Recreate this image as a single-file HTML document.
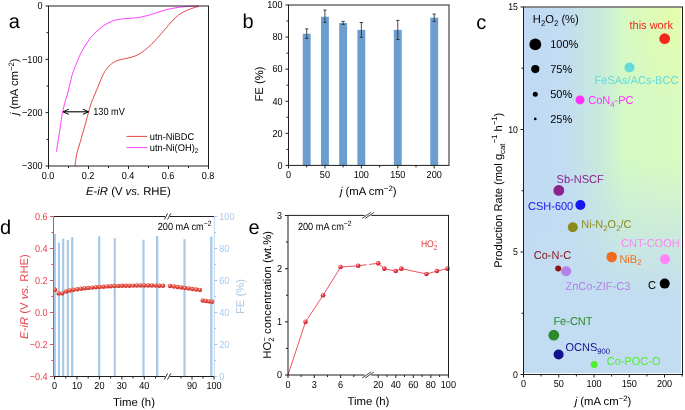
<!DOCTYPE html>
<html><head><meta charset="utf-8"><style>
html,body{margin:0;padding:0;background:#fff;width:685px;height:410px;overflow:hidden}
svg{display:block;will-change:transform}
text{font-family:"Liberation Sans", sans-serif;text-rendering:geometricPrecision}
</style></head><body>
<svg width="685" height="410" viewBox="0 0 685 410" font-family='"Liberation Sans", sans-serif'>
<rect width="685" height="410" fill="#fff"/>
<path d="M75.00,166.00 C75.25,164.18 75.68,158.92 76.50,155.10 C77.32,151.28 78.77,147.08 79.90,143.10 C81.03,139.12 82.25,134.90 83.30,131.20 C84.35,127.50 85.33,124.03 86.20,120.90 C87.07,117.77 87.70,115.25 88.50,112.40 C89.30,109.55 90.02,106.65 91.00,103.80 C91.98,100.95 93.12,98.43 94.40,95.30 C95.68,92.17 97.27,88.42 98.70,85.00 C100.13,81.58 101.70,77.43 103.00,74.80 C104.30,72.17 105.30,70.85 106.50,69.20 C107.70,67.55 108.43,66.33 110.20,64.90 C111.97,63.47 114.53,61.65 117.10,60.60 C119.67,59.55 122.75,59.30 125.60,58.60 C128.45,57.90 131.63,57.35 134.20,56.40 C136.77,55.45 138.73,54.33 141.00,52.90 C143.27,51.47 145.52,49.78 147.80,47.80 C150.08,45.82 152.42,43.42 154.70,41.00 C156.98,38.58 159.23,35.87 161.50,33.30 C163.77,30.73 166.03,28.17 168.30,25.60 C170.57,23.03 172.82,20.03 175.10,17.90 C177.38,15.77 179.43,14.30 182.00,12.80 C184.57,11.30 187.65,9.98 190.50,8.90 C193.35,7.82 197.67,6.73 199.10,6.30" fill="none" stroke="#e2413c" stroke-width="0.95" stroke-linejoin="round"/>
<path d="M56.50,151.70 C56.70,150.27 57.22,146.23 57.70,143.10 C58.18,139.97 58.83,136.60 59.40,132.90 C59.97,129.20 60.58,124.32 61.10,120.90 C61.62,117.48 61.93,115.25 62.50,112.40 C63.07,109.55 63.73,106.65 64.50,103.80 C65.27,100.95 66.23,98.43 67.10,95.30 C67.97,92.17 68.85,88.42 69.70,85.00 C70.55,81.58 71.22,78.07 72.20,74.80 C73.18,71.53 74.32,68.67 75.60,65.40 C76.88,62.13 78.33,58.47 79.90,55.20 C81.47,51.93 83.15,48.80 85.00,45.80 C86.85,42.80 89.00,39.63 91.00,37.20 C93.00,34.77 95.00,33.05 97.00,31.20 C99.00,29.35 101.00,27.55 103.00,26.10 C105.00,24.65 107.08,23.47 109.00,22.50 C110.92,21.53 112.58,20.87 114.50,20.30 C116.42,19.73 118.08,19.42 120.50,19.10 C122.92,18.78 126.15,18.65 129.00,18.40 C131.85,18.15 134.75,18.02 137.60,17.60 C140.45,17.18 143.25,16.62 146.10,15.90 C148.95,15.18 151.85,14.18 154.70,13.30 C157.55,12.42 160.37,11.40 163.20,10.60 C166.03,9.80 168.85,9.07 171.70,8.50 C174.55,7.93 177.45,7.57 180.30,7.20 C183.15,6.83 185.82,6.50 188.80,6.30 C191.78,6.10 196.63,6.05 198.20,6.00" fill="none" stroke="#ff33ff" stroke-width="0.95" stroke-linejoin="round"/>
<rect x="48.5" y="6.0" width="160.00" height="160.00" fill="none" stroke="#1e1e1e" stroke-width="1"/>
<line x1="45.50" y1="6.00" x2="48.50" y2="6.00" stroke="#1e1e1e" stroke-width="1.0" />
<text transform="translate(42.50,9.30) scale(1,1.12)" font-size="9.1" text-anchor="end" fill="#000" >0</text>
<line x1="45.50" y1="59.33" x2="48.50" y2="59.33" stroke="#1e1e1e" stroke-width="1.0" />
<text transform="translate(42.50,62.63) scale(1,1.12)" font-size="9.1" text-anchor="end" fill="#000" >&#8722;100</text>
<line x1="45.50" y1="112.67" x2="48.50" y2="112.67" stroke="#1e1e1e" stroke-width="1.0" />
<text transform="translate(42.50,115.97) scale(1,1.12)" font-size="9.1" text-anchor="end" fill="#000" >&#8722;200</text>
<line x1="45.50" y1="166.00" x2="48.50" y2="166.00" stroke="#1e1e1e" stroke-width="1.0" />
<text transform="translate(42.50,169.30) scale(1,1.12)" font-size="9.1" text-anchor="end" fill="#000" >&#8722;300</text>
<line x1="46.50" y1="32.67" x2="48.50" y2="32.67" stroke="#1e1e1e" stroke-width="1.0" />
<line x1="46.50" y1="86.00" x2="48.50" y2="86.00" stroke="#1e1e1e" stroke-width="1.0" />
<line x1="46.50" y1="139.33" x2="48.50" y2="139.33" stroke="#1e1e1e" stroke-width="1.0" />
<line x1="48.50" y1="166.00" x2="48.50" y2="169.00" stroke="#1e1e1e" stroke-width="1.0" />
<text transform="translate(48.10,178.80) scale(1,1.12)" font-size="9.1" text-anchor="middle" fill="#000" >0.0</text>
<line x1="88.50" y1="166.00" x2="88.50" y2="169.00" stroke="#1e1e1e" stroke-width="1.0" />
<text transform="translate(88.10,178.80) scale(1,1.12)" font-size="9.1" text-anchor="middle" fill="#000" >0.2</text>
<line x1="128.50" y1="166.00" x2="128.50" y2="169.00" stroke="#1e1e1e" stroke-width="1.0" />
<text transform="translate(128.10,178.80) scale(1,1.12)" font-size="9.1" text-anchor="middle" fill="#000" >0.4</text>
<line x1="168.50" y1="166.00" x2="168.50" y2="169.00" stroke="#1e1e1e" stroke-width="1.0" />
<text transform="translate(168.10,178.80) scale(1,1.12)" font-size="9.1" text-anchor="middle" fill="#000" >0.6</text>
<line x1="208.50" y1="166.00" x2="208.50" y2="169.00" stroke="#1e1e1e" stroke-width="1.0" />
<text transform="translate(208.10,178.80) scale(1,1.12)" font-size="9.1" text-anchor="middle" fill="#000" >0.8</text>
<line x1="68.50" y1="166.00" x2="68.50" y2="168.00" stroke="#1e1e1e" stroke-width="1.0" />
<line x1="108.50" y1="166.00" x2="108.50" y2="168.00" stroke="#1e1e1e" stroke-width="1.0" />
<line x1="148.50" y1="166.00" x2="148.50" y2="168.00" stroke="#1e1e1e" stroke-width="1.0" />
<line x1="188.50" y1="166.00" x2="188.50" y2="168.00" stroke="#1e1e1e" stroke-width="1.0" />
<line x1="63.40" y1="111.80" x2="88.20" y2="111.80" stroke="#000" stroke-width="1.1" />
<path d="M68.8,109.2 L63.0,111.8 L68.8,114.4" fill="none" stroke="#000" stroke-width="1.0"/>
<path d="M82.8,109.2 L88.6,111.8 L82.8,114.4" fill="none" stroke="#000" stroke-width="1.0"/>
<text transform="translate(93.20,115.20) scale(1,1.12)" font-size="9.2" text-anchor="start" fill="#000" >130 mV</text>
<line x1="126.50" y1="136.40" x2="147.20" y2="136.40" stroke="#e2413c" stroke-width="0.95" />
<line x1="126.50" y1="147.60" x2="147.20" y2="147.60" stroke="#ff33ff" stroke-width="0.95" />
<text transform="translate(149.80,139.70) scale(1,1.05)" font-size="9.3" text-anchor="start" fill="#000" >utn-NiBDC</text>
<text transform="translate(149.80,150.90) scale(1,1.05)" font-size="9.3" text-anchor="start" fill="#000" >utn-Ni(OH)<tspan font-size="6.6" dy="2.2">2</tspan></text>
<text x="128.40" y="194.80" font-size="11.3" text-anchor="middle" fill="#000" ><tspan font-style="italic">E</tspan>-<tspan font-style="italic">iR</tspan> (V <tspan font-style="italic">vs.</tspan> RHE)</text>
<text transform="translate(17.60,86.70) rotate(-90)" font-size="11.3" text-anchor="middle" fill="#000"><tspan font-style="italic">j</tspan> (mA cm<tspan font-size="7.8" dy="-4">&#8722;2</tspan><tspan dy="4">)</tspan></text>
<text x="8.70" y="28.20" font-size="20" text-anchor="start" fill="#000" >a</text>
<rect x="302.76" y="33.71" width="7.9" height="131.69" fill="#6b9ecf"/>
<rect x="320.98" y="16.71" width="7.9" height="148.69" fill="#6b9ecf"/>
<rect x="339.19" y="22.96" width="7.9" height="142.44" fill="#6b9ecf"/>
<rect x="357.40" y="29.86" width="7.9" height="135.54" fill="#6b9ecf"/>
<rect x="393.82" y="29.86" width="7.9" height="135.54" fill="#6b9ecf"/>
<rect x="430.25" y="17.67" width="7.9" height="147.73" fill="#6b9ecf"/>
<line x1="306.71" y1="28.90" x2="306.71" y2="38.40" stroke="#2a2a2a" stroke-width="0.85" />
<line x1="305.01" y1="28.90" x2="308.41" y2="28.90" stroke="#2a2a2a" stroke-width="0.85" />
<line x1="305.01" y1="38.40" x2="308.41" y2="38.40" stroke="#2a2a2a" stroke-width="0.85" />
<line x1="324.93" y1="10.10" x2="324.93" y2="22.40" stroke="#2a2a2a" stroke-width="0.85" />
<line x1="323.23" y1="10.10" x2="326.62" y2="10.10" stroke="#2a2a2a" stroke-width="0.85" />
<line x1="323.23" y1="22.40" x2="326.62" y2="22.40" stroke="#2a2a2a" stroke-width="0.85" />
<line x1="343.14" y1="21.40" x2="343.14" y2="24.40" stroke="#2a2a2a" stroke-width="0.85" />
<line x1="341.44" y1="21.40" x2="344.84" y2="21.40" stroke="#2a2a2a" stroke-width="0.85" />
<line x1="341.44" y1="24.40" x2="344.84" y2="24.40" stroke="#2a2a2a" stroke-width="0.85" />
<line x1="361.35" y1="22.50" x2="361.35" y2="37.40" stroke="#2a2a2a" stroke-width="0.85" />
<line x1="359.65" y1="22.50" x2="363.05" y2="22.50" stroke="#2a2a2a" stroke-width="0.85" />
<line x1="359.65" y1="37.40" x2="363.05" y2="37.40" stroke="#2a2a2a" stroke-width="0.85" />
<line x1="397.77" y1="20.40" x2="397.77" y2="39.50" stroke="#2a2a2a" stroke-width="0.85" />
<line x1="396.07" y1="20.40" x2="399.47" y2="20.40" stroke="#2a2a2a" stroke-width="0.85" />
<line x1="396.07" y1="39.50" x2="399.47" y2="39.50" stroke="#2a2a2a" stroke-width="0.85" />
<line x1="434.20" y1="14.10" x2="434.20" y2="21.40" stroke="#2a2a2a" stroke-width="0.85" />
<line x1="432.50" y1="14.10" x2="435.90" y2="14.10" stroke="#2a2a2a" stroke-width="0.85" />
<line x1="432.50" y1="21.40" x2="435.90" y2="21.40" stroke="#2a2a2a" stroke-width="0.85" />
<rect x="288.5" y="5.0" width="160.50" height="160.40" fill="none" stroke="#1e1e1e" stroke-width="1"/>
<line x1="285.50" y1="165.40" x2="288.50" y2="165.40" stroke="#1e1e1e" stroke-width="1.0" />
<text transform="translate(282.50,168.70) scale(1,1.12)" font-size="9.1" text-anchor="end" fill="#000" >0</text>
<line x1="285.50" y1="133.32" x2="288.50" y2="133.32" stroke="#1e1e1e" stroke-width="1.0" />
<text transform="translate(282.50,136.62) scale(1,1.12)" font-size="9.1" text-anchor="end" fill="#000" >20</text>
<line x1="285.50" y1="101.24" x2="288.50" y2="101.24" stroke="#1e1e1e" stroke-width="1.0" />
<text transform="translate(282.50,104.54) scale(1,1.12)" font-size="9.1" text-anchor="end" fill="#000" >40</text>
<line x1="285.50" y1="69.16" x2="288.50" y2="69.16" stroke="#1e1e1e" stroke-width="1.0" />
<text transform="translate(282.50,72.46) scale(1,1.12)" font-size="9.1" text-anchor="end" fill="#000" >60</text>
<line x1="285.50" y1="37.08" x2="288.50" y2="37.08" stroke="#1e1e1e" stroke-width="1.0" />
<text transform="translate(282.50,40.38) scale(1,1.12)" font-size="9.1" text-anchor="end" fill="#000" >80</text>
<line x1="285.50" y1="5.00" x2="288.50" y2="5.00" stroke="#1e1e1e" stroke-width="1.0" />
<text transform="translate(282.50,8.30) scale(1,1.12)" font-size="9.1" text-anchor="end" fill="#000" >100</text>
<line x1="286.50" y1="149.36" x2="288.50" y2="149.36" stroke="#1e1e1e" stroke-width="1.0" />
<line x1="286.50" y1="117.28" x2="288.50" y2="117.28" stroke="#1e1e1e" stroke-width="1.0" />
<line x1="286.50" y1="85.20" x2="288.50" y2="85.20" stroke="#1e1e1e" stroke-width="1.0" />
<line x1="286.50" y1="53.12" x2="288.50" y2="53.12" stroke="#1e1e1e" stroke-width="1.0" />
<line x1="286.50" y1="21.04" x2="288.50" y2="21.04" stroke="#1e1e1e" stroke-width="1.0" />
<line x1="288.50" y1="165.40" x2="288.50" y2="168.40" stroke="#1e1e1e" stroke-width="1.0" />
<text transform="translate(288.50,178.20) scale(1,1.12)" font-size="9.1" text-anchor="middle" fill="#000" >0</text>
<line x1="324.93" y1="165.40" x2="324.93" y2="168.40" stroke="#1e1e1e" stroke-width="1.0" />
<text transform="translate(324.93,178.20) scale(1,1.12)" font-size="9.1" text-anchor="middle" fill="#000" >50</text>
<line x1="361.35" y1="165.40" x2="361.35" y2="168.40" stroke="#1e1e1e" stroke-width="1.0" />
<text transform="translate(361.35,178.20) scale(1,1.12)" font-size="9.1" text-anchor="middle" fill="#000" >100</text>
<line x1="397.77" y1="165.40" x2="397.77" y2="168.40" stroke="#1e1e1e" stroke-width="1.0" />
<text transform="translate(397.77,178.20) scale(1,1.12)" font-size="9.1" text-anchor="middle" fill="#000" >150</text>
<line x1="434.20" y1="165.40" x2="434.20" y2="168.40" stroke="#1e1e1e" stroke-width="1.0" />
<text transform="translate(434.20,178.20) scale(1,1.12)" font-size="9.1" text-anchor="middle" fill="#000" >200</text>
<line x1="306.71" y1="165.40" x2="306.71" y2="167.40" stroke="#1e1e1e" stroke-width="1.0" />
<line x1="343.14" y1="165.40" x2="343.14" y2="167.40" stroke="#1e1e1e" stroke-width="1.0" />
<line x1="379.56" y1="165.40" x2="379.56" y2="167.40" stroke="#1e1e1e" stroke-width="1.0" />
<line x1="415.99" y1="165.40" x2="415.99" y2="167.40" stroke="#1e1e1e" stroke-width="1.0" />
<text x="368.20" y="195.30" font-size="11.3" text-anchor="middle" fill="#000" ><tspan font-style="italic">j</tspan> (mA cm<tspan font-size="7.8" dy="-4">&#8722;2</tspan><tspan dy="4">)</tspan></text>
<text transform="translate(263.30,84.00) rotate(-90)" font-size="11.3" text-anchor="middle" fill="#000">FE (%)</text>
<text x="242.60" y="27.70" font-size="20" text-anchor="start" fill="#000" >b</text>
<defs><linearGradient id="gch" gradientUnits="userSpaceOnUse" x1="523" y1="0" x2="682" y2="0"><stop offset="0" stop-color="#c0daf4"/><stop offset="0.27" stop-color="#c2dcf2"/><stop offset="0.48" stop-color="#c8eadc"/><stop offset="0.64" stop-color="#d4f9c6"/><stop offset="1" stop-color="#d8fbc0"/></linearGradient><radialGradient id="gcy" gradientUnits="userSpaceOnUse" cx="0" cy="0" r="1" gradientTransform="translate(682,7) scale(65,105)"><stop offset="0" stop-color="#e6fca8" stop-opacity="0.9"/><stop offset="1" stop-color="#e6fca8" stop-opacity="0"/></radialGradient><linearGradient id="gcv" gradientUnits="userSpaceOnUse" x1="0" y1="160" x2="0" y2="300"><stop offset="0" stop-color="#c2dcf2" stop-opacity="0"/><stop offset="1" stop-color="#c2dcf2" stop-opacity="1"/></linearGradient></defs>
<rect x="524" y="7.5" width="157" height="365.5" fill="url(#gch)"/>
<rect x="524" y="7.5" width="157" height="365.5" fill="url(#gcy)"/>
<rect x="524" y="7.5" width="157" height="365.5" fill="url(#gcv)"/>
<rect x="523.5" y="7.0" width="159.00" height="367.50" fill="none" stroke="#1e1e1e" stroke-width="1"/>
<line x1="520.50" y1="374.50" x2="523.50" y2="374.50" stroke="#1e1e1e" stroke-width="1.0" />
<text transform="translate(517.90,377.50) scale(1,1.12)" font-size="8.7" text-anchor="end" fill="#000" >0</text>
<line x1="520.50" y1="252.00" x2="523.50" y2="252.00" stroke="#1e1e1e" stroke-width="1.0" />
<text transform="translate(517.90,255.00) scale(1,1.12)" font-size="8.7" text-anchor="end" fill="#000" >5</text>
<line x1="520.50" y1="129.50" x2="523.50" y2="129.50" stroke="#1e1e1e" stroke-width="1.0" />
<text transform="translate(517.90,132.50) scale(1,1.12)" font-size="8.7" text-anchor="end" fill="#000" >10</text>
<line x1="520.50" y1="7.00" x2="523.50" y2="7.00" stroke="#1e1e1e" stroke-width="1.0" />
<text transform="translate(517.90,10.00) scale(1,1.12)" font-size="8.7" text-anchor="end" fill="#000" >15</text>
<line x1="521.50" y1="313.25" x2="523.50" y2="313.25" stroke="#1e1e1e" stroke-width="1.0" />
<line x1="521.50" y1="190.75" x2="523.50" y2="190.75" stroke="#1e1e1e" stroke-width="1.0" />
<line x1="521.50" y1="68.25" x2="523.50" y2="68.25" stroke="#1e1e1e" stroke-width="1.0" />
<line x1="523.50" y1="374.50" x2="523.50" y2="377.50" stroke="#1e1e1e" stroke-width="1.0" />
<text transform="translate(523.50,386.90) scale(1,1.12)" font-size="9.1" text-anchor="middle" fill="#000" >0</text>
<line x1="558.75" y1="374.50" x2="558.75" y2="377.50" stroke="#1e1e1e" stroke-width="1.0" />
<text transform="translate(558.75,386.90) scale(1,1.12)" font-size="9.1" text-anchor="middle" fill="#000" >50</text>
<line x1="594.00" y1="374.50" x2="594.00" y2="377.50" stroke="#1e1e1e" stroke-width="1.0" />
<text transform="translate(594.00,386.90) scale(1,1.12)" font-size="9.1" text-anchor="middle" fill="#000" >100</text>
<line x1="629.25" y1="374.50" x2="629.25" y2="377.50" stroke="#1e1e1e" stroke-width="1.0" />
<text transform="translate(629.25,386.90) scale(1,1.12)" font-size="9.1" text-anchor="middle" fill="#000" >150</text>
<line x1="664.50" y1="374.50" x2="664.50" y2="377.50" stroke="#1e1e1e" stroke-width="1.0" />
<text transform="translate(664.50,386.90) scale(1,1.12)" font-size="9.1" text-anchor="middle" fill="#000" >200</text>
<line x1="541.12" y1="374.50" x2="541.12" y2="376.50" stroke="#1e1e1e" stroke-width="1.0" />
<line x1="576.38" y1="374.50" x2="576.38" y2="376.50" stroke="#1e1e1e" stroke-width="1.0" />
<line x1="611.62" y1="374.50" x2="611.62" y2="376.50" stroke="#1e1e1e" stroke-width="1.0" />
<line x1="646.88" y1="374.50" x2="646.88" y2="376.50" stroke="#1e1e1e" stroke-width="1.0" />
<line x1="682.12" y1="374.50" x2="682.12" y2="376.50" stroke="#1e1e1e" stroke-width="1.0" />
<text x="603.00" y="404.60" font-size="11.3" text-anchor="middle" fill="#000" ><tspan font-style="italic">j</tspan> (mA cm<tspan font-size="7.8" dy="-4">&#8722;2</tspan><tspan dy="4">)</tspan></text>
<text transform="translate(501.50,190.30) rotate(-90)" font-size="11.15" text-anchor="middle" fill="#000">Production Rate (mol g<tspan font-size="7.8" dy="3.3">cat</tspan><tspan font-size="7.8" dy="-7.5">&#8722;1</tspan><tspan dy="4.2"> h</tspan><tspan font-size="7.8" dy="-4.2">&#8722;1</tspan><tspan dy="4.2">)</tspan></text>
<text x="476.30" y="28.50" font-size="20" text-anchor="start" fill="#000" >c</text>
<text transform="translate(532.80,23.30) scale(1,1.04)" font-size="11.2" text-anchor="start" fill="#000" >H<tspan font-size="7.8" dy="2.3">2</tspan><tspan dy="-2.3">O</tspan><tspan font-size="7.8" dy="2.3">2</tspan><tspan dy="-2.3"> (%)</tspan></text>
<circle cx="535.3" cy="44.4" r="5.9" fill="#000"/>
<text transform="translate(550.20,48.30) scale(1,1.04)" font-size="11" text-anchor="start" fill="#000" >100%</text>
<circle cx="535.3" cy="69.1" r="4.1" fill="#000"/>
<text transform="translate(550.20,73.00) scale(1,1.04)" font-size="11" text-anchor="start" fill="#000" >75%</text>
<circle cx="535.3" cy="94.2" r="2.5" fill="#000"/>
<text transform="translate(550.20,98.10) scale(1,1.04)" font-size="11" text-anchor="start" fill="#000" >50%</text>
<circle cx="535.3" cy="118.9" r="1.3" fill="#000"/>
<text transform="translate(550.20,122.80) scale(1,1.04)" font-size="11" text-anchor="start" fill="#000" >25%</text>
<circle cx="664.7" cy="38.7" r="5.4" fill="#f0281c"/>
<text transform="translate(629.50,28.70) scale(1,1.04)" font-size="11" text-anchor="start" fill="#f0281c" >this work</text>
<circle cx="629.5" cy="67.5" r="5.0" fill="#66dada"/>
<text transform="translate(594.60,84.40) scale(1,1.04)" font-size="11" text-anchor="start" fill="#66dada" >FeSAs/ACs-BCC</text>
<circle cx="580.0" cy="99.9" r="4.5" fill="#ff30ff"/>
<text transform="translate(588.30,103.90) scale(1,1.04)" font-size="11" text-anchor="start" fill="#ff30ff" >CoN<tspan font-size="7.7" dy="2.6">4</tspan><tspan dy="-2.6">-PC</tspan></text>
<circle cx="558.8" cy="190.4" r="5.4" fill="#8c228c"/>
<text transform="translate(556.60,182.60) scale(1,1.04)" font-size="11" text-anchor="start" fill="#8c228c" >Sb-NSCF</text>
<circle cx="580.4" cy="205.0" r="5.0" fill="#1616f0"/>
<text transform="translate(528.00,210.20) scale(1,1.04)" font-size="11" text-anchor="start" fill="#1616f0" >CSH-600</text>
<circle cx="572.8" cy="227.2" r="5.0" fill="#8a8a1e"/>
<text transform="translate(581.30,228.00) scale(1,1.04)" font-size="11" text-anchor="start" fill="#8a8a1e" >Ni-N<tspan font-size="7.7" dy="2.6">2</tspan><tspan dy="-2.6">O</tspan><tspan font-size="7.7" dy="2.6">2</tspan><tspan dy="-2.6">/C</tspan></text>
<circle cx="665.0" cy="259.2" r="5.0" fill="#ff84f8"/>
<text transform="translate(621.00,246.50) scale(1,1.04)" font-size="11" text-anchor="start" fill="#ff84f8" >CNT-COOH</text>
<circle cx="611.7" cy="257.0" r="5.25" fill="#f26a1e"/>
<text transform="translate(619.40,262.50) scale(1,1.04)" font-size="11" text-anchor="start" fill="#f26a1e" >NiB<tspan font-size="7.7" dy="2.6">2</tspan></text>
<circle cx="566.1" cy="271.2" r="5.0" fill="#b482e6"/>
<text transform="translate(565.50,290.10) scale(1,1.04)" font-size="11" text-anchor="start" fill="#b482e6" >ZnCo-ZIF-C3</text>
<circle cx="558.2" cy="268.4" r="3.0" fill="#8c1414"/>
<text transform="translate(533.80,258.60) scale(1,1.04)" font-size="11" text-anchor="start" fill="#8c1414" >Co-N-C</text>
<circle cx="664.7" cy="283.6" r="5.0" fill="#000"/>
<text transform="translate(647.90,288.50) scale(1,1.04)" font-size="11" text-anchor="start" fill="#000" >C</text>
<circle cx="553.8" cy="335.2" r="5.4" fill="#2c8a2c"/>
<text transform="translate(553.40,325.30) scale(1,1.04)" font-size="11" text-anchor="start" fill="#2c8a2c" >Fe-CNT</text>
<circle cx="558.6" cy="354.5" r="5.0" fill="#12128c"/>
<text transform="translate(565.50,351.30) scale(1,1.04)" font-size="11" text-anchor="start" fill="#12128c" >OCNS<tspan font-size="7.7" dy="2.6">900</tspan></text>
<circle cx="594.2" cy="364.6" r="3.5" fill="#4cf02c"/>
<text transform="translate(606.70,365.20) scale(1,1.04)" font-size="11" text-anchor="start" fill="#4cf02c" >Co-POC-O</text>
<line x1="53.50" y1="216.50" x2="53.50" y2="376.50" stroke="#e4464c" stroke-width="1.0" />
<rect x="53.30" y="233.90" width="2.60" height="142.60" fill="#5193cf" fill-opacity="0.5"/>
<rect x="57.90" y="242.60" width="2.10" height="133.90" fill="#5193cf" fill-opacity="0.5"/>
<rect x="62.10" y="238.60" width="2.20" height="137.90" fill="#5193cf" fill-opacity="0.5"/>
<rect x="66.80" y="240.00" width="2.10" height="136.50" fill="#5193cf" fill-opacity="0.5"/>
<rect x="71.10" y="237.10" width="2.30" height="139.40" fill="#5193cf" fill-opacity="0.5"/>
<rect x="98.10" y="236.30" width="2.20" height="140.20" fill="#5193cf" fill-opacity="0.5"/>
<rect x="113.70" y="238.10" width="2.10" height="138.40" fill="#5193cf" fill-opacity="0.5"/>
<rect x="142.40" y="239.70" width="2.20" height="136.80" fill="#5193cf" fill-opacity="0.5"/>
<rect x="156.00" y="236.00" width="2.30" height="140.50" fill="#5193cf" fill-opacity="0.5"/>
<rect x="183.40" y="239.20" width="2.20" height="137.30" fill="#5193cf" fill-opacity="0.5"/>
<rect x="210.20" y="236.50" width="2.30" height="140.00" fill="#5193cf" fill-opacity="0.5"/>
<defs><radialGradient id="gd" cx="0.4" cy="0.32" r="0.6"><stop offset="0" stop-color="#fff0ea"/><stop offset="0.35" stop-color="#e85a4c"/><stop offset="1" stop-color="#d2342a"/></radialGradient></defs>
<circle cx="55.00" cy="289.80" r="2.2" fill="url(#gd)"/>
<circle cx="58.60" cy="293.40" r="2.2" fill="url(#gd)"/>
<circle cx="62.20" cy="293.40" r="2.2" fill="url(#gd)"/>
<circle cx="66.10" cy="291.50" r="2.2" fill="url(#gd)"/>
<circle cx="69.80" cy="290.50" r="2.2" fill="url(#gd)"/>
<circle cx="73.50" cy="289.80" r="2.2" fill="url(#gd)"/>
<circle cx="77.30" cy="289.30" r="2.2" fill="url(#gd)"/>
<circle cx="81.10" cy="288.80" r="2.2" fill="url(#gd)"/>
<circle cx="84.80" cy="288.30" r="2.2" fill="url(#gd)"/>
<circle cx="88.50" cy="287.90" r="2.2" fill="url(#gd)"/>
<circle cx="92.30" cy="287.60" r="2.2" fill="url(#gd)"/>
<circle cx="96.00" cy="287.20" r="2.2" fill="url(#gd)"/>
<circle cx="99.70" cy="286.90" r="2.2" fill="url(#gd)"/>
<circle cx="103.50" cy="286.70" r="2.2" fill="url(#gd)"/>
<circle cx="107.20" cy="286.40" r="2.2" fill="url(#gd)"/>
<circle cx="110.80" cy="286.20" r="2.2" fill="url(#gd)"/>
<circle cx="114.60" cy="286.00" r="2.2" fill="url(#gd)"/>
<circle cx="118.30" cy="285.90" r="2.2" fill="url(#gd)"/>
<circle cx="122.03" cy="285.82" r="2.2" fill="url(#gd)"/>
<circle cx="125.76" cy="285.75" r="2.2" fill="url(#gd)"/>
<circle cx="129.49" cy="285.68" r="2.2" fill="url(#gd)"/>
<circle cx="133.22" cy="285.62" r="2.2" fill="url(#gd)"/>
<circle cx="136.95" cy="285.57" r="2.2" fill="url(#gd)"/>
<circle cx="140.68" cy="285.53" r="2.2" fill="url(#gd)"/>
<circle cx="144.41" cy="285.51" r="2.2" fill="url(#gd)"/>
<circle cx="148.14" cy="285.50" r="2.2" fill="url(#gd)"/>
<circle cx="151.87" cy="285.54" r="2.2" fill="url(#gd)"/>
<circle cx="155.60" cy="285.62" r="2.2" fill="url(#gd)"/>
<circle cx="159.33" cy="285.70" r="2.2" fill="url(#gd)"/>
<circle cx="163.06" cy="285.78" r="2.2" fill="url(#gd)"/>
<circle cx="170.10" cy="286.00" r="2.2" fill="url(#gd)"/>
<circle cx="173.83" cy="286.51" r="2.2" fill="url(#gd)"/>
<circle cx="177.56" cy="287.01" r="2.2" fill="url(#gd)"/>
<circle cx="181.29" cy="287.52" r="2.2" fill="url(#gd)"/>
<circle cx="185.02" cy="288.02" r="2.2" fill="url(#gd)"/>
<circle cx="188.75" cy="288.53" r="2.2" fill="url(#gd)"/>
<circle cx="192.48" cy="289.03" r="2.2" fill="url(#gd)"/>
<circle cx="196.21" cy="289.54" r="2.2" fill="url(#gd)"/>
<circle cx="199.94" cy="290.05" r="2.2" fill="url(#gd)"/>
<circle cx="202.70" cy="300.50" r="2.2" fill="url(#gd)"/>
<circle cx="206.00" cy="301.00" r="2.2" fill="url(#gd)"/>
<circle cx="209.20" cy="301.40" r="2.2" fill="url(#gd)"/>
<circle cx="212.30" cy="301.80" r="2.2" fill="url(#gd)"/>
<line x1="54.00" y1="216.50" x2="214.30" y2="216.50" stroke="#1e1e1e" stroke-width="1.0" />
<line x1="54.00" y1="376.50" x2="214.30" y2="376.50" stroke="#1e1e1e" stroke-width="1.0" />
<line x1="214.30" y1="216.50" x2="214.30" y2="376.50" stroke="#c0d6ee" stroke-width="1.0" />
<line x1="50.10" y1="216.50" x2="53.50" y2="216.50" stroke="#e4464c" stroke-width="1.0" />
<text transform="translate(47.60,219.80) scale(1,1.12)" font-size="9.1" text-anchor="end" fill="#e4464c" >0.6</text>
<line x1="50.10" y1="248.50" x2="53.50" y2="248.50" stroke="#e4464c" stroke-width="1.0" />
<text transform="translate(47.60,251.80) scale(1,1.12)" font-size="9.1" text-anchor="end" fill="#e4464c" >0.4</text>
<line x1="50.10" y1="280.50" x2="53.50" y2="280.50" stroke="#e4464c" stroke-width="1.0" />
<text transform="translate(47.60,283.80) scale(1,1.12)" font-size="9.1" text-anchor="end" fill="#e4464c" >0.2</text>
<line x1="50.10" y1="312.50" x2="53.50" y2="312.50" stroke="#e4464c" stroke-width="1.0" />
<text transform="translate(47.60,315.80) scale(1,1.12)" font-size="9.1" text-anchor="end" fill="#e4464c" >0.0</text>
<line x1="50.10" y1="344.50" x2="53.50" y2="344.50" stroke="#e4464c" stroke-width="1.0" />
<text transform="translate(47.60,347.80) scale(1,1.12)" font-size="9.1" text-anchor="end" fill="#e4464c" >&#8722;0.2</text>
<line x1="50.10" y1="376.50" x2="53.50" y2="376.50" stroke="#e4464c" stroke-width="1.0" />
<text transform="translate(47.60,379.80) scale(1,1.12)" font-size="9.1" text-anchor="end" fill="#e4464c" >&#8722;0.4</text>
<line x1="51.50" y1="232.50" x2="53.50" y2="232.50" stroke="#e4464c" stroke-width="1.0" />
<line x1="51.50" y1="264.50" x2="53.50" y2="264.50" stroke="#e4464c" stroke-width="1.0" />
<line x1="51.50" y1="296.50" x2="53.50" y2="296.50" stroke="#e4464c" stroke-width="1.0" />
<line x1="51.50" y1="328.50" x2="53.50" y2="328.50" stroke="#e4464c" stroke-width="1.0" />
<line x1="51.50" y1="360.50" x2="53.50" y2="360.50" stroke="#e4464c" stroke-width="1.0" />
<line x1="214.30" y1="376.50" x2="217.30" y2="376.50" stroke="#a8c8e6" stroke-width="1.0" />
<text transform="translate(219.30,379.80) scale(1,1.12)" font-size="9.1" text-anchor="start" fill="#a8c8e6" >0</text>
<line x1="214.30" y1="344.50" x2="217.30" y2="344.50" stroke="#a8c8e6" stroke-width="1.0" />
<text transform="translate(219.30,347.80) scale(1,1.12)" font-size="9.1" text-anchor="start" fill="#a8c8e6" >20</text>
<line x1="214.30" y1="312.50" x2="217.30" y2="312.50" stroke="#a8c8e6" stroke-width="1.0" />
<text transform="translate(219.30,315.80) scale(1,1.12)" font-size="9.1" text-anchor="start" fill="#a8c8e6" >40</text>
<line x1="214.30" y1="280.50" x2="217.30" y2="280.50" stroke="#a8c8e6" stroke-width="1.0" />
<text transform="translate(219.30,283.80) scale(1,1.12)" font-size="9.1" text-anchor="start" fill="#a8c8e6" >60</text>
<line x1="214.30" y1="248.50" x2="217.30" y2="248.50" stroke="#a8c8e6" stroke-width="1.0" />
<text transform="translate(219.30,251.80) scale(1,1.12)" font-size="9.1" text-anchor="start" fill="#a8c8e6" >80</text>
<line x1="214.30" y1="216.50" x2="217.30" y2="216.50" stroke="#a8c8e6" stroke-width="1.0" />
<text transform="translate(219.30,219.80) scale(1,1.12)" font-size="9.1" text-anchor="start" fill="#a8c8e6" >100</text>
<line x1="214.30" y1="360.50" x2="216.30" y2="360.50" stroke="#a8c8e6" stroke-width="1.0" />
<line x1="214.30" y1="328.50" x2="216.30" y2="328.50" stroke="#a8c8e6" stroke-width="1.0" />
<line x1="214.30" y1="296.50" x2="216.30" y2="296.50" stroke="#a8c8e6" stroke-width="1.0" />
<line x1="214.30" y1="264.50" x2="216.30" y2="264.50" stroke="#a8c8e6" stroke-width="1.0" />
<line x1="214.30" y1="232.50" x2="216.30" y2="232.50" stroke="#a8c8e6" stroke-width="1.0" />
<line x1="54.50" y1="376.50" x2="54.50" y2="379.50" stroke="#1e1e1e" stroke-width="1.0" />
<text transform="translate(54.50,389.30) scale(1,1.12)" font-size="9.1" text-anchor="middle" fill="#000" >0</text>
<line x1="76.95" y1="376.50" x2="76.95" y2="379.50" stroke="#1e1e1e" stroke-width="1.0" />
<text transform="translate(76.95,389.30) scale(1,1.12)" font-size="9.1" text-anchor="middle" fill="#000" >10</text>
<line x1="99.40" y1="376.50" x2="99.40" y2="379.50" stroke="#1e1e1e" stroke-width="1.0" />
<text transform="translate(99.40,389.30) scale(1,1.12)" font-size="9.1" text-anchor="middle" fill="#000" >20</text>
<line x1="121.85" y1="376.50" x2="121.85" y2="379.50" stroke="#1e1e1e" stroke-width="1.0" />
<text transform="translate(121.85,389.30) scale(1,1.12)" font-size="9.1" text-anchor="middle" fill="#000" >30</text>
<line x1="144.30" y1="376.50" x2="144.30" y2="379.50" stroke="#1e1e1e" stroke-width="1.0" />
<text transform="translate(144.30,389.30) scale(1,1.12)" font-size="9.1" text-anchor="middle" fill="#000" >40</text>
<line x1="192.00" y1="376.50" x2="192.00" y2="379.50" stroke="#1e1e1e" stroke-width="1.0" />
<text transform="translate(192.00,389.30) scale(1,1.12)" font-size="9.1" text-anchor="middle" fill="#000" >90</text>
<line x1="214.00" y1="376.50" x2="214.00" y2="379.50" stroke="#1e1e1e" stroke-width="1.0" />
<text transform="translate(214.00,389.30) scale(1,1.12)" font-size="9.1" text-anchor="middle" fill="#000" >100</text>
<line x1="65.72" y1="376.50" x2="65.72" y2="378.50" stroke="#1e1e1e" stroke-width="1.0" />
<line x1="88.18" y1="376.50" x2="88.18" y2="378.50" stroke="#1e1e1e" stroke-width="1.0" />
<line x1="110.62" y1="376.50" x2="110.62" y2="378.50" stroke="#1e1e1e" stroke-width="1.0" />
<line x1="133.07" y1="376.50" x2="133.07" y2="378.50" stroke="#1e1e1e" stroke-width="1.0" />
<line x1="155.53" y1="376.50" x2="155.53" y2="378.50" stroke="#1e1e1e" stroke-width="1.0" />
<line x1="181.00" y1="376.50" x2="181.00" y2="378.50" stroke="#1e1e1e" stroke-width="1.0" />
<line x1="203.00" y1="376.50" x2="203.00" y2="378.50" stroke="#1e1e1e" stroke-width="1.0" />
<rect x="165.2" y="215.0" width="4.6" height="3" fill="#fff"/>
<line x1="164.30" y1="219.50" x2="167.70" y2="213.40" stroke="#1a1a1a" stroke-width="0.9" />
<line x1="167.50" y1="219.50" x2="170.90" y2="213.40" stroke="#1a1a1a" stroke-width="0.9" />
<rect x="165.2" y="375.0" width="4.6" height="3" fill="#fff"/>
<line x1="164.30" y1="379.50" x2="167.70" y2="373.40" stroke="#1a1a1a" stroke-width="0.9" />
<line x1="167.50" y1="379.50" x2="170.90" y2="373.40" stroke="#1a1a1a" stroke-width="0.9" />
<text x="134.00" y="405.60" font-size="11.4" text-anchor="middle" fill="#000" >Time (h)</text>
<text transform="translate(157.70,229.90) scale(1,1.12)" font-size="9.2" text-anchor="start" fill="#000" >200 mA cm<tspan font-size="6.8" dy="-3.3">&#8722;2</tspan></text>
<text transform="translate(27.80,296.50) rotate(-90)" font-size="11.3" text-anchor="middle" fill="#e4464c"><tspan font-style="italic">E</tspan>-<tspan font-style="italic">iR</tspan> (V <tspan font-style="italic">vs.</tspan> RHE)</text>
<text transform="translate(244.30,296.50) rotate(-90)" font-size="11.3" text-anchor="middle" fill="#a8c8e6">FE (%)</text>
<text x="0.10" y="233.90" font-size="20" text-anchor="start" fill="#000" >d</text>
<polyline points="288.00,375.00 305.54,321.83 323.08,295.25 340.62,267.06 358.16,265.74" fill="none" stroke="#e8343e" stroke-width="0.85" stroke-linejoin="round" stroke-linecap="round" />
<polyline points="378.20,263.34 384.34,268.66 395.75,271.05 401.45,268.66 426.46,273.98 436.99,271.05 447.52,268.66" fill="none" stroke="#e8343e" stroke-width="0.85" stroke-linejoin="round" stroke-linecap="round" />
<line x1="358.16" y1="265.74" x2="366.78" y2="264.71" stroke="#e8343e" stroke-width="0.85" />
<line x1="369.08" y1="264.43" x2="378.20" y2="263.34" stroke="#e8343e" stroke-width="0.85" />
<defs><radialGradient id="gs" cx="0.38" cy="0.33" r="0.65"><stop offset="0" stop-color="#ffd0d0"/><stop offset="0.4" stop-color="#ea4450"/><stop offset="1" stop-color="#c81e28"/></radialGradient></defs>
<circle cx="305.54" cy="321.83" r="2.3" fill="url(#gs)"/>
<circle cx="323.08" cy="295.25" r="2.3" fill="url(#gs)"/>
<circle cx="340.62" cy="267.06" r="2.3" fill="url(#gs)"/>
<circle cx="358.16" cy="265.74" r="2.3" fill="url(#gs)"/>
<circle cx="378.20" cy="263.34" r="2.3" fill="url(#gs)"/>
<circle cx="384.34" cy="268.66" r="2.3" fill="url(#gs)"/>
<circle cx="395.75" cy="271.05" r="2.3" fill="url(#gs)"/>
<circle cx="401.45" cy="268.66" r="2.3" fill="url(#gs)"/>
<circle cx="426.46" cy="273.98" r="2.3" fill="url(#gs)"/>
<circle cx="436.99" cy="271.05" r="2.3" fill="url(#gs)"/>
<circle cx="447.52" cy="268.66" r="2.3" fill="url(#gs)"/>
<rect x="288.0" y="215.4" width="160.50" height="159.60" fill="none" stroke="#1e1e1e" stroke-width="1"/>
<line x1="285.00" y1="375.00" x2="288.00" y2="375.00" stroke="#1e1e1e" stroke-width="1.0" />
<text transform="translate(282.00,378.30) scale(1,1.12)" font-size="9.1" text-anchor="end" fill="#000" >0</text>
<line x1="285.00" y1="321.83" x2="288.00" y2="321.83" stroke="#1e1e1e" stroke-width="1.0" />
<text transform="translate(282.00,325.13) scale(1,1.12)" font-size="9.1" text-anchor="end" fill="#000" >1</text>
<line x1="285.00" y1="268.66" x2="288.00" y2="268.66" stroke="#1e1e1e" stroke-width="1.0" />
<text transform="translate(282.00,271.96) scale(1,1.12)" font-size="9.1" text-anchor="end" fill="#000" >2</text>
<line x1="285.00" y1="215.49" x2="288.00" y2="215.49" stroke="#1e1e1e" stroke-width="1.0" />
<text transform="translate(282.00,218.79) scale(1,1.12)" font-size="9.1" text-anchor="end" fill="#000" >3</text>
<line x1="286.00" y1="348.42" x2="288.00" y2="348.42" stroke="#1e1e1e" stroke-width="1.0" />
<line x1="286.00" y1="295.25" x2="288.00" y2="295.25" stroke="#1e1e1e" stroke-width="1.0" />
<line x1="286.00" y1="242.07" x2="288.00" y2="242.07" stroke="#1e1e1e" stroke-width="1.0" />
<line x1="288.00" y1="375.00" x2="288.00" y2="378.00" stroke="#1e1e1e" stroke-width="1.0" />
<text transform="translate(288.00,387.60) scale(1,1.12)" font-size="9.1" text-anchor="middle" fill="#000" >0</text>
<line x1="314.31" y1="375.00" x2="314.31" y2="378.00" stroke="#1e1e1e" stroke-width="1.0" />
<text transform="translate(314.31,387.60) scale(1,1.12)" font-size="9.1" text-anchor="middle" fill="#000" >3</text>
<line x1="340.62" y1="375.00" x2="340.62" y2="378.00" stroke="#1e1e1e" stroke-width="1.0" />
<text transform="translate(340.62,387.60) scale(1,1.12)" font-size="9.1" text-anchor="middle" fill="#000" >6</text>
<line x1="378.20" y1="375.00" x2="378.20" y2="378.00" stroke="#1e1e1e" stroke-width="1.0" />
<text transform="translate(378.20,387.60) scale(1,1.12)" font-size="9.1" text-anchor="middle" fill="#000" >20</text>
<line x1="395.75" y1="375.00" x2="395.75" y2="378.00" stroke="#1e1e1e" stroke-width="1.0" />
<text transform="translate(395.75,387.60) scale(1,1.12)" font-size="9.1" text-anchor="middle" fill="#000" >40</text>
<line x1="413.30" y1="375.00" x2="413.30" y2="378.00" stroke="#1e1e1e" stroke-width="1.0" />
<text transform="translate(413.30,387.60) scale(1,1.12)" font-size="9.1" text-anchor="middle" fill="#000" >60</text>
<line x1="430.85" y1="375.00" x2="430.85" y2="378.00" stroke="#1e1e1e" stroke-width="1.0" />
<text transform="translate(430.85,387.60) scale(1,1.12)" font-size="9.1" text-anchor="middle" fill="#000" >80</text>
<line x1="448.40" y1="375.00" x2="448.40" y2="378.00" stroke="#1e1e1e" stroke-width="1.0" />
<text transform="translate(448.40,387.60) scale(1,1.12)" font-size="9.1" text-anchor="middle" fill="#000" >100</text>
<line x1="301.15" y1="375.00" x2="301.15" y2="377.00" stroke="#1e1e1e" stroke-width="1.0" />
<line x1="327.46" y1="375.00" x2="327.46" y2="377.00" stroke="#1e1e1e" stroke-width="1.0" />
<line x1="353.77" y1="375.00" x2="353.77" y2="377.00" stroke="#1e1e1e" stroke-width="1.0" />
<line x1="386.97" y1="375.00" x2="386.97" y2="377.00" stroke="#1e1e1e" stroke-width="1.0" />
<line x1="404.52" y1="375.00" x2="404.52" y2="377.00" stroke="#1e1e1e" stroke-width="1.0" />
<line x1="422.07" y1="375.00" x2="422.07" y2="377.00" stroke="#1e1e1e" stroke-width="1.0" />
<line x1="439.62" y1="375.00" x2="439.62" y2="377.00" stroke="#1e1e1e" stroke-width="1.0" />
<rect x="364.6" y="213.9" width="6.6" height="3" fill="#fff"/>
<line x1="362.10" y1="218.40" x2="370.90" y2="212.40" stroke="#222" stroke-width="0.85" />
<line x1="365.20" y1="218.40" x2="373.90" y2="212.40" stroke="#222" stroke-width="0.85" />
<rect x="364.6" y="373.5" width="6.6" height="3" fill="#fff"/>
<line x1="362.10" y1="378.00" x2="370.90" y2="372.00" stroke="#222" stroke-width="0.85" />
<line x1="365.20" y1="378.00" x2="373.90" y2="372.00" stroke="#222" stroke-width="0.85" />
<text x="368.40" y="404.80" font-size="11.4" text-anchor="middle" fill="#000" >Time (h)</text>
<text transform="translate(297.90,229.90) scale(1,1.12)" font-size="9.2" text-anchor="start" fill="#000" >200 mA cm<tspan font-size="6.8" dy="-3.3">&#8722;2</tspan></text>
<text transform="translate(420.90,247.30) scale(1,1.12)" font-size="8.6" text-anchor="start" fill="#e8343e" >HO<tspan font-size="6.4" dy="2.4">2</tspan><tspan font-size="5.0" dx="-3.4" dy="-6.4">&#8722;</tspan></text>
<text transform="translate(271.30,294.80) rotate(-90)" font-size="11.3" text-anchor="middle" fill="#000">HO<tspan font-size="7.8" dy="3.0">2</tspan><tspan font-size="7.8" dx="-4.3" dy="-7.6">&#8722;</tspan><tspan dy="4.6"> concentration (wt.%)</tspan></text>
<text x="248.40" y="233.90" font-size="20" text-anchor="start" fill="#000" >e</text>
</svg>
</body></html>
